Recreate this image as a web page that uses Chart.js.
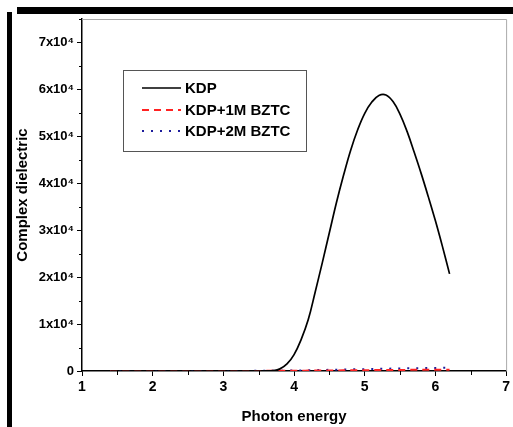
<!DOCTYPE html>
<html><head><meta charset="utf-8">
<script src="https://cdn.jsdelivr.net/npm/chart.js@4"></script>
<style>html,body{margin:0;padding:0;background:#fff}#wrap{width:513px;height:427px;position:relative}</style>
</head><body><div id="wrap"><canvas id="c" width="513" height="427"></canvas></div>
<script>
const energy = [1.4,1.5,1.6,1.7,1.8,1.9,2.0,2.1,2.2,2.3,2.4,2.5,2.6,2.7,2.8,2.9,3.0,3.1,3.2,3.3,3.4,3.5,
  3.6,3.7,3.8,3.9,4.0,4.1,4.2,4.3,4.4,4.5,4.6,4.7,4.8,4.9,5.0,5.1,5.2,5.3,5.4,5.5,5.6,5.7,5.8,5.9,6.0,6.1,6.2];
const kdp = [0,0,0,0,0,0,0,0,0,0,0,0,0,0,0,0,0,0,0,0,0,0,
  20,80,450,1500,3500,6700,10900,16900,23100,29500,35900,41700,47000,51400,54900,57300,58700,58800,57400,54700,51000,46600,42000,37100,32000,26500,20700];
const kdp1M = [20,20,20,20,20,20,20,20,20,20,20,20,20,20,20,20,20,20,20,20,20,20,
  30,30,40,50,60,70,80,90,100,120,130,140,150,170,180,190,200,210,220,230,240,240,250,250,260,260,260];
const kdp2M = [20,20,20,20,20,20,20,20,20,20,20,20,20,20,20,20,20,20,20,20,30,30,
  40,50,60,80,100,130,160,190,220,250,280,310,340,370,400,430,460,490,520,550,580,600,620,640,660,680,700];
const seriesLabels = ['KDP','KDP+1M BZTC','KDP+2M BZTC'];
const yTickValues = [0,10000,20000,30000,40000,50000,60000,70000];
const xTickValues = [1,2,3,4,5,6,7];

const FONT = '"Liberation Sans", Arial, sans-serif';
const pts = arr => energy.map((e,i)=>({x:e,y:arr[i]}));

const decor = {
  id:'decor',
  beforeDraw(chart){
    const ctx = chart.ctx;
    ctx.save();
    ctx.fillStyle='#fff'; ctx.fillRect(0,0,chart.width,chart.height);
    ctx.fillStyle='#000';
    ctx.fillRect(17,7,chart.width-17,7);
    ctx.fillRect(7,12,5,chart.height-12);
    ctx.restore();
  },
  beforeDatasetsDraw(chart){
    const ctx = chart.ctx, a = chart.chartArea;
    ctx.save();
    ctx.strokeStyle='#aaa'; ctx.lineWidth=1;
    ctx.beginPath();
    ctx.moveTo(a.left, a.top+0.5); ctx.lineTo(a.right+0.5, a.top+0.5); ctx.lineTo(a.right+0.5, a.bottom);
    ctx.stroke();
    const xs = chart.scales.x, ys = chart.scales.y;
    ctx.strokeStyle='#000'; ctx.lineWidth=1;
    ctx.beginPath();
    for (let v=1.5; v<7; v+=1){ const px=Math.round(xs.getPixelForValue(v))+0.5; ctx.moveTo(px,a.bottom); ctx.lineTo(px,a.bottom+4); }
    for (let v=5000; v<=75000; v+=10000){ const py=Math.round(ys.getPixelForValue(v))+0.5; ctx.moveTo(a.left,py); ctx.lineTo(a.left-3,py); }
    ctx.stroke();
    ctx.restore();
  },
  afterDraw(chart){
    const ctx = chart.ctx;
    ctx.save();
    ctx.strokeStyle='#555'; ctx.lineWidth=1;
    ctx.strokeRect(123.5,70.5,183,81);
    const rows=[88,110,131];
    chart.data.datasets.forEach((ds,i)=>{
      ctx.strokeStyle=ds.borderColor; ctx.lineWidth=ds.borderWidth;
      ctx.setLineDash(ds.borderDash||[]);
      ctx.beginPath(); ctx.moveTo(142,rows[i]); ctx.lineTo(181,rows[i]); ctx.stroke();
      ctx.setLineDash([]);
      ctx.fillStyle='#000'; ctx.font='bold 15px '+FONT; ctx.textBaseline='middle';
      ctx.fillText(ds.label,185,rows[i]+1);
    });
    ctx.restore();
  }
};

new Chart(document.getElementById('c'), {
  type:'line',
  data:{datasets:[
    {label:seriesLabels[0], data:pts(kdp), borderColor:'#000', borderWidth:1.7, pointRadius:0, tension:0.4},
    {label:seriesLabels[1], data:pts(kdp1M), borderColor:'#ff2222', borderWidth:2, borderDash:[7,5], pointRadius:0, cubicInterpolationMode:'monotone'},
    {label:seriesLabels[2], data:pts(kdp2M), borderColor:'#1c1c9c', borderWidth:2, borderDash:[2,7], pointRadius:0, cubicInterpolationMode:'monotone'}
  ]},
  options:{
    responsive:false, animation:false, events:[],
    layout:{padding:{top:19,right:4,left:0,bottom:0}},
    plugins:{legend:{display:false}, tooltip:{enabled:false}},
    scales:{
      x:{type:'linear', min:1, max:7,
        afterFit:s=>{s.height=56;},
        afterBuildTicks:s=>{s.ticks=xTickValues.map(v=>({value:v}));},
        ticks:{color:'#000', padding:3, font:{family:FONT, weight:'bold', size:14}, callback:v=>String(v), maxRotation:0},
        grid:{drawOnChartArea:false, drawTicks:true, tickLength:5, tickColor:'#000', tickWidth:1},
        border:{color:'#000', width:1.5},
        title:{display:true, text:'Photon energy', color:'#000', font:{family:FONT, weight:'bold', size:15}, padding:{top:0,bottom:1}}
      },
      y:{type:'linear', min:0, max:75000,
        afterFit:s=>{s.width=82;},
        afterBuildTicks:s=>{s.ticks=yTickValues.map(v=>({value:v}));},
        ticks:{color:'#000', padding:3, font:{family:FONT, weight:'bold', size:13}, callback:v=> v===0?'0':(v/10000)+'x10\u2074'},
        grid:{drawOnChartArea:false, drawTicks:true, tickLength:5, tickColor:'#000', tickWidth:1},
        border:{color:'#000', width:1.5},
        title:{display:true, text:'Complex dielectric', color:'#000', font:{family:FONT, weight:'bold', size:15}, padding:{top:14,bottom:0}}
      }
    }
  },
  plugins:[decor]
});
</script>
</body></html>
